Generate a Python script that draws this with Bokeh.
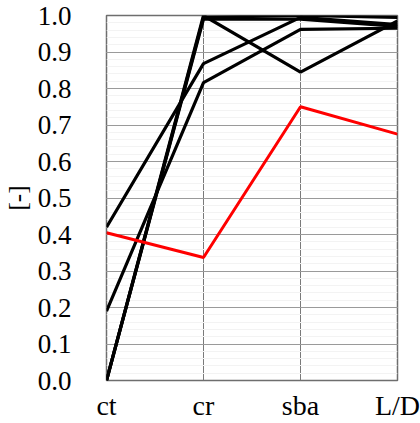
from bokeh.plotting import figure
from bokeh.models import Range1d, FixedTicker
from bokeh.embed import file_html
from bokeh.resources import INLINE

categories = ["ct", "cr", "sba", "L/D"]
y_ticks = [0.0, 0.1, 0.2, 0.3, 0.4, 0.5, 0.6, 0.7, 0.8, 0.9, 1.0]

black_series = [
    [0.42, 0.868, 0.995, 0.975],
    [0.19, 0.816, 0.962, 0.965],
    [0.0, 1.0, 0.845, 0.985],
    [0.0, 0.995, 1.0, 0.995],
    [0.0, 0.99, 0.99, 0.97],
]
red_series = [0.405, 0.337, 0.75, 0.675]

FONT = "Liberation Serif"

p = figure(width=420, height=423, output_backend="svg", toolbar_location=None,
           x_range=Range1d(0, len(categories) - 1), y_range=Range1d(0, 1.0),
           min_border_left=105, min_border_right=23, min_border_top=15, min_border_bottom=41)
p.background_fill_color = "white"
p.border_fill_color = "white"
p.outline_line_color = "#6e6e6e"
p.outline_line_width = 1.5

xs = list(range(len(categories)))
for s in black_series:
    p.line(xs, s, line_color="black", line_width=3.2)
p.line(xs, red_series, line_color="#ff0000", line_width=3)

# x axis
p.xaxis.ticker = FixedTicker(ticks=xs)
p.xaxis.major_label_overrides = {i: c for i, c in enumerate(categories)}
p.xaxis.axis_line_color = None
p.xaxis.major_tick_line_color = None
p.xaxis.minor_tick_line_color = None
p.xaxis.major_label_text_font = FONT
p.xaxis.major_label_text_font_size = "28px"
p.xaxis.major_label_text_color = "black"
p.xaxis.major_label_standoff = 3

# y axis
p.yaxis.ticker = FixedTicker(ticks=y_ticks, minor_ticks=[i / 50 for i in range(51)])
p.yaxis.major_label_overrides = {t: f"{t:.1f}" for t in y_ticks}
p.yaxis.axis_line_color = None
p.yaxis.major_tick_line_color = None
p.yaxis.minor_tick_line_color = None
p.yaxis.major_label_text_font = FONT
p.yaxis.major_label_text_font_size = "27px"
p.yaxis.major_label_text_color = "black"
p.yaxis.major_label_standoff = 29
p.yaxis.axis_label = "[-]"
p.yaxis.axis_label_text_font = FONT
p.yaxis.axis_label_text_font_size = "25px"
p.yaxis.axis_label_text_font_style = "normal"
p.yaxis.axis_label_text_color = "black"
p.yaxis.axis_label_standoff = 4

p.xgrid.grid_line_color = "#7a7a7a"
p.xgrid.grid_line_width = 1
p.ygrid.grid_line_color = "#9a9a9a"
p.ygrid.grid_line_width = 1.2
p.ygrid.minor_grid_line_color = "#f3f3f3"
p.ygrid.minor_grid_line_width = 1

open("out.html", "w").write(file_html(p, INLINE))
